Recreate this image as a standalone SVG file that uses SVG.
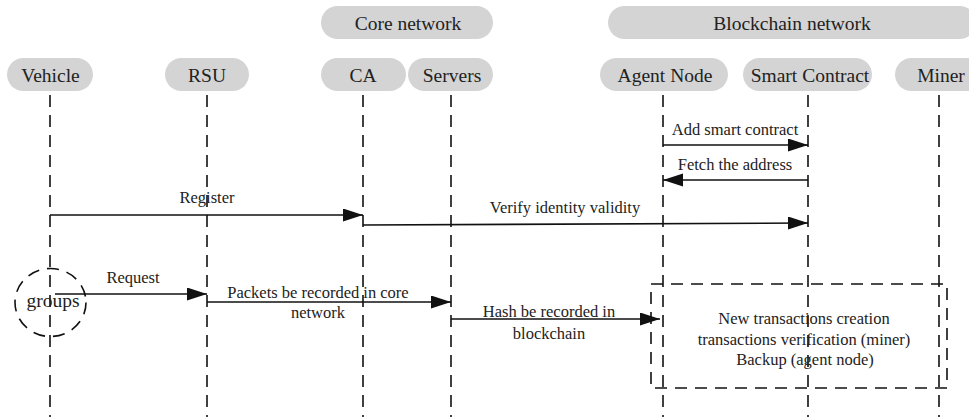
<svg xmlns="http://www.w3.org/2000/svg" width="969" height="417" viewBox="0 0 969 417">
  <style>
    .pill { fill: #d4d4d4; }
    .lbl { font-family: "Liberation Serif", "Times New Roman", serif; fill: #222; text-anchor: middle; }
    .head { font-size: 19.5px; }
    .msg { font-size: 16.5px; }
    .note { font-size: 16.5px; }
    .life { stroke: #111; stroke-width: 1.6; stroke-dasharray: 12 8; fill: none; }
    .arrow { stroke: #111; stroke-width: 1.6; fill: none; marker-end: url(#tri); }
    .frame { stroke: #111; stroke-width: 1.6; stroke-dasharray: 12 8; fill: none; }
  </style>
  <defs>
    <marker id="tri" markerUnits="userSpaceOnUse" markerWidth="21" markerHeight="14" refX="20" refY="6.5" orient="auto">
      <path d="M0,0 L20,6.5 L0,13 z" fill="#111"/>
    </marker>
  </defs>
  <rect width="969" height="417" fill="#fff"/>

  <!-- network groupings -->
  <g id="core-network">
    <rect class="pill" x="321" y="6" width="172" height="33" rx="16.5"/>
    <text class="lbl head" x="408" y="30">Core network</text>
  </g>
  <g id="blockchain-network">
    <rect class="pill" x="608" y="6" width="368" height="33" rx="16.5"/>
    <text class="lbl head" x="792" y="30">Blockchain network</text>
  </g>

  <!-- participants with lifelines -->
  <g id="vehicle">
    <rect class="pill" x="7" y="58" width="86" height="33" rx="16.5"/>
    <text class="lbl head" x="50.5" y="82">Vehicle</text>
    <line class="life" x1="50" y1="95" x2="50" y2="417"/>
  </g>
  <g id="rsu">
    <rect class="pill" x="165" y="58" width="84" height="33" rx="16.5"/>
    <text class="lbl head" x="207" y="82">RSU</text>
    <line class="life" x1="207" y1="95" x2="207" y2="417"/>
  </g>
  <g id="ca">
    <rect class="pill" x="321" y="58" width="85" height="33" rx="16.5"/>
    <text class="lbl head" x="363" y="82">CA</text>
    <line class="life" x1="363" y1="95" x2="363" y2="417"/>
  </g>
  <g id="servers">
    <rect class="pill" x="408" y="58" width="85" height="33" rx="16.5"/>
    <text class="lbl head" x="452" y="82">Servers</text>
    <line class="life" x1="451" y1="95" x2="451" y2="417"/>
  </g>
  <g id="agent-node">
    <rect class="pill" x="600" y="58" width="128" height="33" rx="16.5"/>
    <text class="lbl head" x="665" y="82">Agent Node</text>
    <line class="life" x1="663" y1="95" x2="663" y2="417"/>
  </g>
  <g id="smart-contract">
    <rect class="pill" x="743" y="58" width="129" height="33" rx="16.5"/>
    <text class="lbl head" x="810" y="82">Smart Contract</text>
    <line class="life" x1="808" y1="95" x2="808" y2="417"/>
  </g>
  <g id="miner">
    <rect class="pill" x="895" y="58" width="90" height="33" rx="16.5"/>
    <text class="lbl head" x="941" y="82">Miner</text>
    <line class="life" x1="939" y1="95" x2="939" y2="417"/>
  </g>

  <!-- vehicle group marker -->
  <g id="groups">
    <ellipse cx="50.5" cy="302.5" rx="35.5" ry="34" fill="none" stroke="#111" stroke-width="1.6" stroke-dasharray="12 8"/>
    <text class="lbl head" x="53" y="307">groups</text>
  </g>

  <!-- on-chain processing frame -->
  <g id="transaction-box">
    <rect class="frame" x="651" y="284" width="296" height="104"/>
    <text class="lbl note" x="804" y="324">New transactions creation</text>
    <text class="lbl note" x="804" y="345">transactions verification (miner)</text>
    <text class="lbl note" x="805" y="365">Backup (agent node)</text>
  </g>

  <!-- messages -->
  <g id="connectors">
    <line class="arrow" x1="663" y1="145" x2="808" y2="145"/>
    <text class="lbl msg" x="735" y="135">Add smart contract</text>

    <line class="arrow" x1="808" y1="180" x2="663" y2="180"/>
    <text class="lbl msg" x="735" y="170">Fetch the address</text>

    <line class="arrow" x1="50" y1="215" x2="363" y2="215"/>
    <text class="lbl msg" x="207" y="203">Register</text>

    <line class="arrow" x1="363" y1="225" x2="808" y2="223"/>
    <text class="lbl msg" x="565" y="213">Verify identity validity</text>

    <line class="arrow" x1="55" y1="294" x2="207" y2="294"/>
    <text class="lbl msg" x="133" y="283">Request</text>

    <line class="arrow" x1="207" y1="302" x2="451" y2="302"/>
    <text class="lbl msg" x="318" y="298">Packets be recorded in core</text>
    <text class="lbl msg" x="318" y="318">network</text>

    <line class="arrow" x1="451" y1="319" x2="660" y2="319"/>
    <text class="lbl msg" x="549" y="317">Hash be recorded in</text>
    <text class="lbl msg" x="549" y="339">blockchain</text>
  </g>
</svg>
